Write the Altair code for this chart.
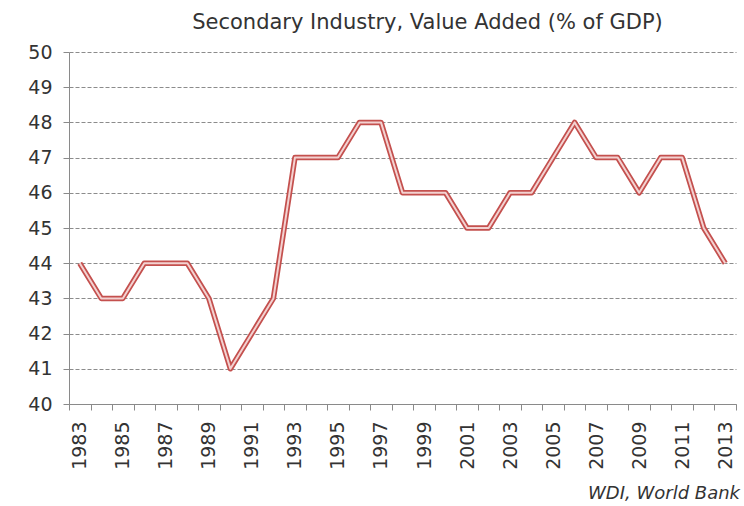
import altair as alt
import pandas as pd

years = list(range(1983, 2014))
values = [44, 43, 43, 44, 44, 44, 43, 41, 42, 43,
          47, 47, 47, 48, 48, 46, 46, 46, 45, 45,
          46, 46, 47, 48, 47, 47, 46, 47, 47, 45, 44]
title_text = "Secondary Industry, Value Added (% of GDP)"
source_text = "WDI, World Bank"
y_ticks = list(range(40, 51))

df = pd.DataFrame({"year": years, "value": values})
src = pd.DataFrame({"t": [source_text]})

FONT = "DejaVu Sans"
GRAY = "#8a8a8a"
TXT = "#333333"

x_enc = alt.X(
    "year:O",
    bandPosition=0.5,
    scale=alt.Scale(type="band", paddingInner=0, paddingOuter=0),
    axis=alt.Axis(
        title=None,
        labelAngle=270,
        labelExpr="datum.value % 2 == 1 ? datum.label : ''",
        labelOverlap=False,
        labelFont=FONT,
        labelFontSize=19,
        labelColor=TXT,
        labelPadding=11,
        tickBand="extent",
        tickSize=6,
        tickColor=GRAY,
        domainColor=GRAY,
        grid=False,
    ),
)
y_enc = alt.Y(
    "value:Q",
    scale=alt.Scale(domain=[40, 50], nice=False, zero=False),
    axis=alt.Axis(
        title=None,
        values=y_ticks,
        labelFont=FONT,
        labelFontSize=19,
        labelColor=TXT,
        labelPadding=11,
        tickSize=6,
        tickColor=GRAY,
        domainColor=GRAY,
        grid=True,
        gridColor="#8c8c8c",
        gridDash=[4, 2],
        gridWidth=1.2,
    ),
)

base = alt.Chart(df).encode(x=x_enc, y=y_enc)
outer = base.mark_line(color="#c4504e", strokeWidth=5.5, strokeJoin="round")
inner = base.mark_line(color="#f3d2d1", strokeWidth=2, strokeJoin="round")

source = alt.Chart(src).mark_text(
    align="right", baseline="middle", font=FONT, fontSize=18,
    fontStyle="italic", color=TXT,
).encode(x=alt.value(671), y=alt.value(442), text="t:N")

chart = alt.layer(outer, inner, source).properties(
    width=667,
    height=352,
    padding={"left": 69, "top": 52, "right": 8, "bottom": 102},
    autosize=alt.AutoSizeParams(type="none"),
    title=alt.TitleParams(
        title_text, font=FONT, fontSize=21, fontWeight="normal",
        color=TXT, anchor="middle", dx=25, offset=10,
    ),
    background="white",
).configure_view(stroke=None)

chart.save("out.html", embed_options={"renderer": "svg", "actions": False})
